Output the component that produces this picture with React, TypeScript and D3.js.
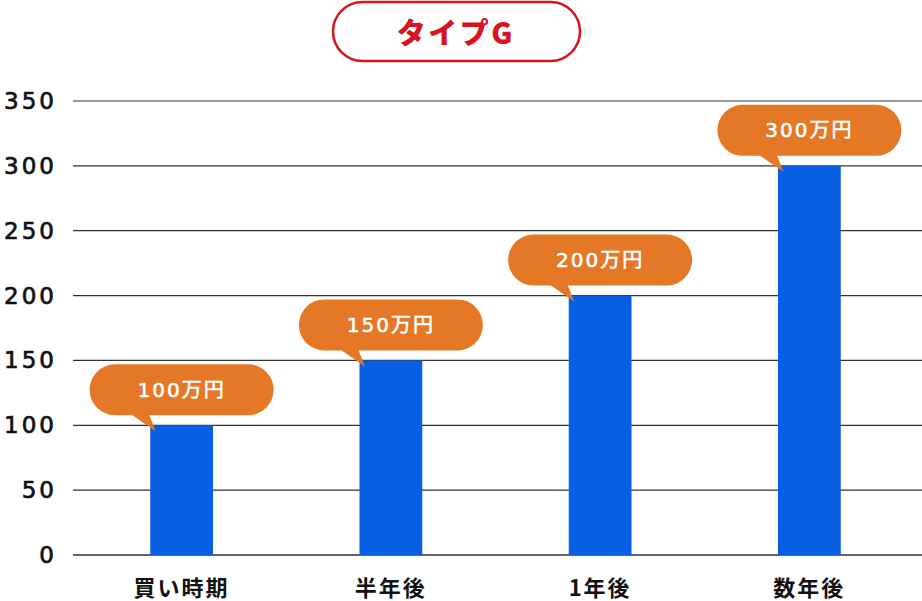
import React from 'react';
import * as d3 from 'd3';

const categories = ['買い時期', '半年後', '1年後', '数年後'];
const values = [100, 150, 200, 300];
const valueLabels = ['100万円', '150万円', '200万円', '300万円'];
const yTicks = [0, 50, 100, 150, 200, 250, 300, 350];
const title = 'タイプG';

const W = 922;
const H = 601;
const JP = '"Noto Sans CJK JP", "Noto Sans", sans-serif';
const NUM = '"DejaVu Sans", "Noto Sans CJK JP", sans-serif';

const x = d3.scaleBand<string>().domain(categories).range([77, 914]).paddingInner(0.7).paddingOuter(0.35);
const y = d3.scaleLinear().domain([0, 350]).range([555, 101]);

const bubbleW = 184;
const bubbleH = 51;

export default function App() {
  const bw = x.bandwidth();
  return (
    <svg width={W} height={H} style={{ position: 'absolute', left: 0, top: 0, background: '#fff' }}>
      {/* title */}
      <rect x={333} y={2} width={247} height={59} rx={29.5} fill="#fff" stroke="#d7141f" strokeWidth={2.5} />
      <text x={456} y={31} textAnchor="middle" dominantBaseline="central" fill="#d7141f"
        style={{ font: `900 29px ${JP}`, letterSpacing: '2.5px' }}>{title}</text>

      {/* grid + y labels */}
      {yTicks.map((t) => (
        <g key={t}>
          <line x1={73} x2={922} y1={y(t)} y2={y(t)} stroke={t === 0 ? '#666' : '#333'} strokeWidth={t === 0 ? 2 : 1.2} />
          <text x={57} y={y(t)} textAnchor="end" dominantBaseline="central" fill="#111" stroke="#111" strokeWidth={0.7}
            style={{ font: `23px ${NUM}`, letterSpacing: '3px' }}>{t}</text>
        </g>
      ))}

      {/* bars */}
      {categories.map((c, i) => (
        <rect key={c} x={x(c)} y={y(values[i])} width={bw} height={y(0) - y(values[i])} fill="#075fe3" />
      ))}

      {/* x labels */}
      {categories.map((c) => (
        <text key={c} x={(x(c) as number) + bw / 2} y={586} textAnchor="middle" dominantBaseline="central"
          fill="#111" style={{ font: `bold 22px ${JP}`, letterSpacing: '2px' }}>{c}</text>
      ))}

      {/* bubbles */}
      {categories.map((c, i) => {
        const cx = (x(c) as number) + bw / 2;
        const top = y(values[i]);
        const by = top - 10;
        const tail = `M${cx - 52},${by - 2} L${cx - 26},${top + 6} L${cx - 33},${by - 2} Z`;
        return (
          <g key={c}>
            <path d={tail} fill="#e47826" />
            <rect x={cx - bubbleW / 2} y={by - bubbleH} width={bubbleW} height={bubbleH} rx={bubbleH / 2} fill="#e47826" />
            <text x={cx} y={by - bubbleH / 2} textAnchor="middle" dominantBaseline="central" fill="#fff" stroke="#fff" strokeWidth={0.6}
              style={{ font: `20px ${NUM}`, letterSpacing: '2px' }}>{valueLabels[i]}</text>
          </g>
        );
      })}
    </svg>
  );
}
